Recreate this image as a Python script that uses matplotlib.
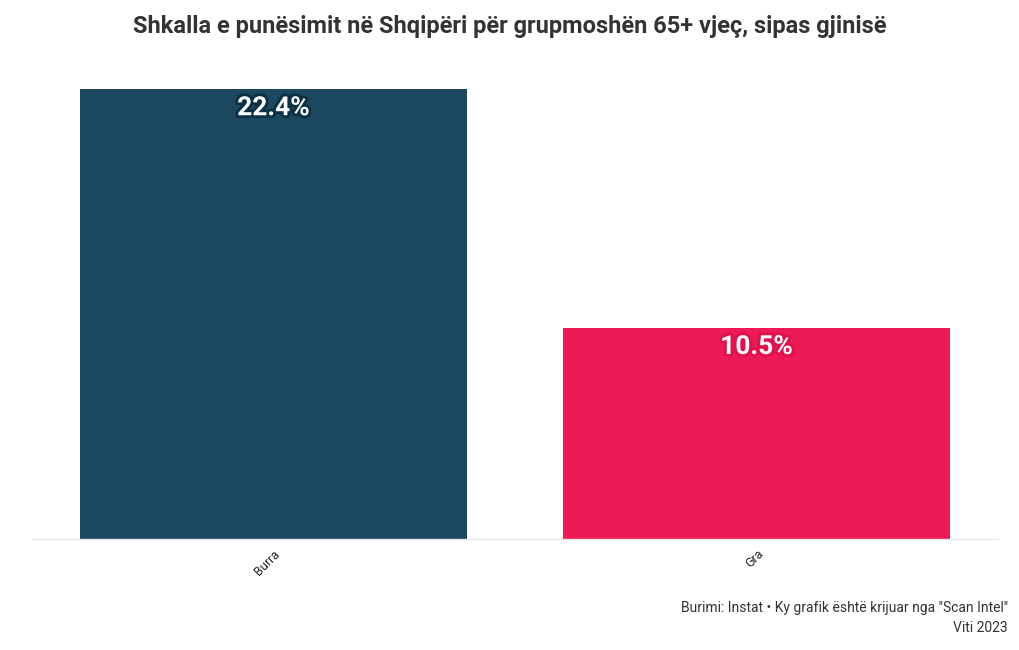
import matplotlib
matplotlib.use("Agg")
import matplotlib.pyplot as plt
import matplotlib.patheffects as pe

categories = ["Burra", "Gra"]
values = [22.4, 10.5]
colors = ["#1b485e", "#ed1a55"]
strokes = ["#0a3044", "#e0104a"]
title = "Shkalla e punësimit në Shqipëri për grupmoshën 65+ vjeç, sipas gjinisë"
footer1 = "Burimi: Instat • Ky grafik është krijuar nga \"Scan Intel\""
footer2 = "Viti 2023"

plt.rcParams['font.family'] = ['Roboto', 'DejaVu Sans']

fig = plt.figure(figsize=(10.2, 6.5), dpi=100)
W, H = 1020, 650
left, right, top, bottom = 32, 998, 67, 539
ax = fig.add_axes([left / W, 1 - bottom / H, (right - left) / W, (bottom - top) / H])

x = list(range(len(categories)))
ax.bar(x, values, width=0.8, color=colors)
ax.set_xlim(-0.5, len(categories) - 0.5)
ax.set_ylim(0, max(values) * 1.05)

for xi, v, sc in zip(x, values, strokes):
    ax.annotate(f"{v}%", (xi, v), xytext=(0, -13.5), textcoords="offset points",
                ha="center", va="center", color="white", fontsize=19, fontweight="bold",
                path_effects=[pe.withStroke(linewidth=4, foreground=sc)])

for s in ["top", "right", "left"]:
    ax.spines[s].set_visible(False)
ax.spines["bottom"].set_color("#e6e6e6")
ax.spines["bottom"].set_linewidth(1)
ax.set_yticks([])
ax.set_xticks(x)
ax.set_xticklabels(categories, rotation=45, ha="right", rotation_mode="anchor", fontsize=9, color="#222222")
ax.tick_params(axis="x", length=0, pad=6)

fig.text(510 / W, 1 - 26 / H, title, ha="center", va="center", fontsize=17, fontweight="bold", color="#333333")
fig.text(1008 / W, 1 - 608 / H, footer1, ha="right", va="center", fontsize=10, color="#333333")
fig.text(1008 / W, 1 - 628 / H, footer2, ha="right", va="center", fontsize=10, color="#333333")

fig.savefig("out.png", dpi=100, facecolor="white")
